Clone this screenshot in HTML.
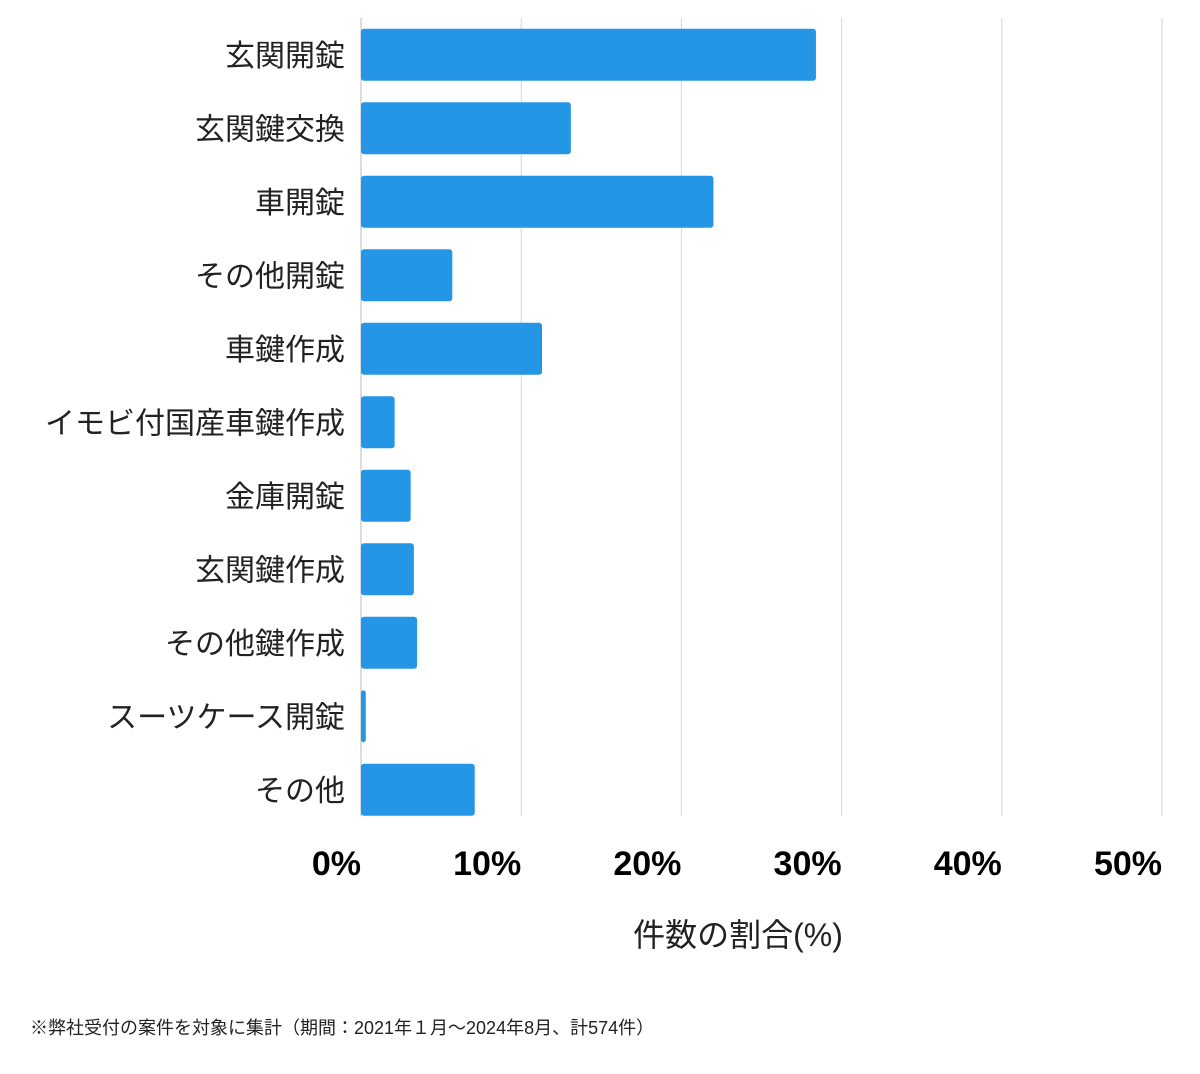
<!DOCTYPE html>
<html><head><meta charset="utf-8"><style>
body{margin:0;background:#fff;width:1200px;height:1069px;overflow:hidden;font-family:"Liberation Sans","Noto Sans CJK JP",sans-serif}
</style></head><body>
<svg id="chart" width="1200" height="1069" xmlns="http://www.w3.org/2000/svg"></svg>
<script>
const categories=["玄関開錠","玄関鍵交換","車開錠","その他開錠","車鍵作成","イモビ付国産車鍵作成","金庫開錠","玄関鍵作成","その他鍵作成","スーツケース開錠","その他"];
const values=[28.4,13.1,22.0,5.7,11.3,2.1,3.1,3.3,3.5,0.3,7.1];
const ticks=[0,10,20,30,40,50];
const tickLabels=["0%","10%","20%","30%","40%","50%"];
const NS="http://www.w3.org/2000/svg";
const svgEl=document.getElementById('chart');
const x0=361,x1=1162,topY=18,step=73.5,bh=52;
const xs=v=>x0+(x1-x0)*v/50;
const yc=i=>topY+step*i+step/2;
function mk(t,a){const e=document.createElementNS(NS,t);for(const k in a)e.setAttribute(k,a[k]);svgEl.appendChild(e);return e;}
ticks.forEach((t,i)=>{
  const g=mk('line',{x1:xs(t),x2:xs(t),y1:topY,y2:816,stroke:i==0?'#bbb':'#d6d6d6','stroke-width':1});
  
  
  const l=mk('text',{x:xs(t),y:875,'text-anchor':'end','font-size':34,'font-weight':'bold',fill:'#000'});
  l.textContent=tickLabels[i];
  
  
});
categories.forEach((c,i)=>{
  const b=mk('rect',{x:x0,y:yc(i)-bh/2,width:Math.max(0,xs(values[i])-x0),height:bh,rx:3,fill:'#2596e6'});
  
  
  const t=mk('text',{x:345,y:yc(i)+11,'text-anchor':'end','font-size':30,fill:'#222'});
  t.textContent=c;
  
  
});
const at=mk('text',{x:738,y:946,'text-anchor':'middle','font-size':32,fill:'#222'});
at.textContent="件数の割合(%)";


const fn=mk('text',{x:30,y:1034,'font-size':18,fill:'#222'});
fn.textContent="※弊社受付の案件を対象に集計（期間：2021年１月〜2024年8月、計574件）";


</script>
</body></html>
